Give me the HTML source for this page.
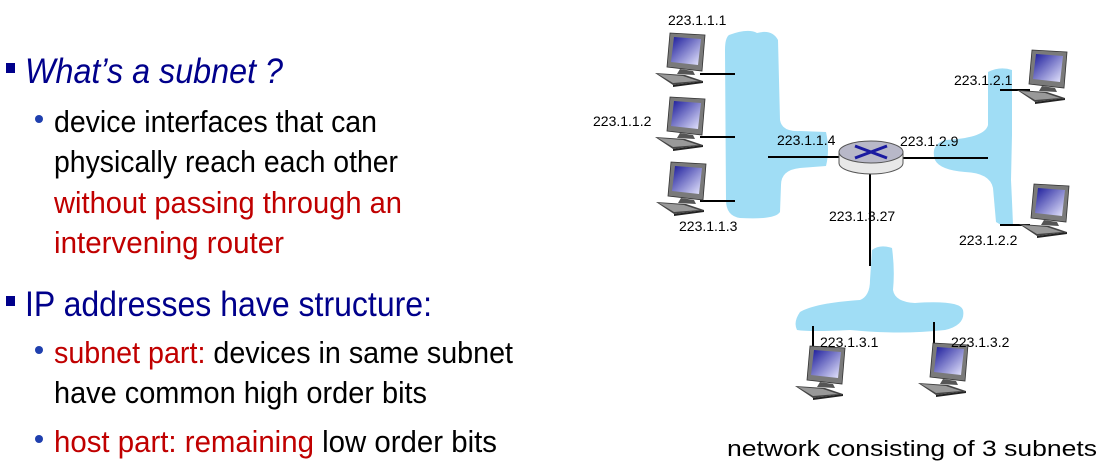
<!DOCTYPE html>
<html><head><meta charset="utf-8"><style>
html,body{margin:0;padding:0;background:#fff;}
svg{display:block;}
</style></head><body>
<svg width="1119" height="475" viewBox="0 0 1119 475" xmlns="http://www.w3.org/2000/svg">
<defs>
<linearGradient id="scr" x1="0" y1="0" x2="1" y2="1"><stop offset="0" stop-color="#1a1a9a"/><stop offset="1" stop-color="#e8e8ff"/></linearGradient>
<g id="pc">
<polygon points="15,0 50,2 47,38 12,34" fill="#7a7a7a" stroke="#333" stroke-width="0.8"/>
<polygon points="19,4 46,6 43,32 16,29" fill="url(#scr)"/>
<polygon points="25,36 38,38 40,42 22,41" fill="#555"/>
<polygon points="0,40 30,42 48,48 18,52" fill="#444"/>
<polygon points="3,41 28,43 43,48 18,50" fill="#999"/>
<polygon points="18,52 48,48 48,50 18,54" fill="#222"/>
</g>
</defs>
<g font-family="Liberation Sans, Arial, sans-serif">
<rect x="6" y="63" width="9" height="10" fill="#00008b"/>
<text x="25" y="83" font-size="35" font-style="italic" fill="#00008b" textLength="258" lengthAdjust="spacingAndGlyphs">What’s a subnet ?</text>
<circle cx="39" cy="119" r="4" fill="#1f3fae"/>
<text x="54" y="132" font-size="31" fill="#000" textLength="323" lengthAdjust="spacingAndGlyphs">device interfaces that can</text>
<text x="54" y="172" font-size="31" fill="#000" textLength="344" lengthAdjust="spacingAndGlyphs">physically reach each other</text>
<text x="54" y="213" font-size="31" fill="#c00000" textLength="348" lengthAdjust="spacingAndGlyphs">without passing through an</text>
<text x="54" y="253" font-size="31" fill="#c00000" textLength="230" lengthAdjust="spacingAndGlyphs">intervening router</text>
<rect x="6" y="296" width="9" height="10" fill="#00008b"/>
<text x="25" y="316" font-size="35" fill="#00008b" textLength="407" lengthAdjust="spacingAndGlyphs">IP addresses have structure:</text>
<circle cx="39" cy="350" r="4" fill="#1f3fae"/>
<text x="54" y="363" font-size="31" textLength="459" lengthAdjust="spacingAndGlyphs"><tspan fill="#c00000">subnet part:</tspan><tspan fill="#000"> devices in same subnet</tspan></text>
<text x="54" y="403" font-size="31" fill="#000" textLength="373" lengthAdjust="spacingAndGlyphs">have common high order bits</text>
<circle cx="39" cy="439" r="4" fill="#1f3fae"/>
<text x="54" y="452" font-size="31" textLength="443" lengthAdjust="spacingAndGlyphs"><tspan fill="#c00000">host part: remaining</tspan><tspan fill="#000"> low order bits</tspan></text>

<path d="M729,35 Q748,28 757,33 Q772,29 778,40 L780,120 Q782,132 800,131 L826,132 Q830,150 826,166 L800,168 Q781,170 781,185 L780,212 Q775,220 740,218 Q726,216 726,200 L725,50 Q725,38 729,35 Z" fill="#a0ddf5"/>
<path d="M988,72 Q1000,66 1012,70 L1012,135 L1011,180 Q1012,200 1013,225 Q1005,228 996,222 L993,188 Q990,173 965,172 Q940,170 935,160 Q930,145 945,140 Q985,138 988,125 Z" fill="#a0ddf5"/>
<path d="M872,250 Q880,244 892,248 Q895,270 893,290 Q895,302 915,303 Q960,300 963,310 Q966,325 945,330 Q900,335 850,330 Q810,332 797,330 Q793,322 800,312 Q815,303 860,300 Q870,296 870,280 Z" fill="#a0ddf5"/>

<g stroke="#000" stroke-width="2">
<line x1="700" y1="74" x2="735" y2="74"/>
<line x1="700" y1="137" x2="735" y2="137"/>
<line x1="700" y1="201" x2="735" y2="201"/>
<line x1="768" y1="157" x2="845" y2="157"/>
<line x1="903" y1="158" x2="988" y2="158"/>
<line x1="1000" y1="90" x2="1030" y2="90"/>
<line x1="1000" y1="225" x2="1030" y2="225"/>
<line x1="870" y1="172" x2="870" y2="266"/>
<line x1="813" y1="326" x2="813" y2="352"/>
<line x1="934" y1="322" x2="934" y2="347"/>
</g>
<path d="M839,152 L839,163 A32,11 0 0 0 903,163 L903,152 Z" fill="#e8e8e8" stroke="#555" stroke-width="1"/>
<ellipse cx="871" cy="152" rx="32" ry="11" fill="#b8b8c8" stroke="#555" stroke-width="1"/>
<g stroke="#1a1aa0" stroke-width="3">
<line x1="855" y1="146" x2="887" y2="158"/><line x1="855" y1="158" x2="887" y2="146"/>
</g>

<use href="#pc" x="655" y="33"/>
<use href="#pc" x="655" y="97"/>
<use href="#pc" x="656" y="162"/>
<use href="#pc" x="1017" y="50"/>
<use href="#pc" x="1019" y="184"/>
<use href="#pc" x="795" y="346"/>
<use href="#pc" x="918" y="343"/>

<g font-size="14" fill="#000">
<text x="668" y="25">223.1.1.1</text>
<text x="593" y="126">223.1.1.2</text>
<text x="679" y="231">223.1.1.3</text>
<text x="777" y="145">223.1.1.4</text>
<text x="900" y="146">223.1.2.9</text>
<text x="829" y="221">223.1.3.27</text>
<text x="954" y="85">223.1.2.1</text>
<text x="959" y="245">223.1.2.2</text>
<text x="820" y="347">223.1.3.1</text>
<text x="951" y="347">223.1.3.2</text>
</g>
<text x="727" y="456" font-size="22" fill="#000" textLength="370" lengthAdjust="spacingAndGlyphs">network consisting of 3 subnets</text>
</g>
</svg>
</body></html>
